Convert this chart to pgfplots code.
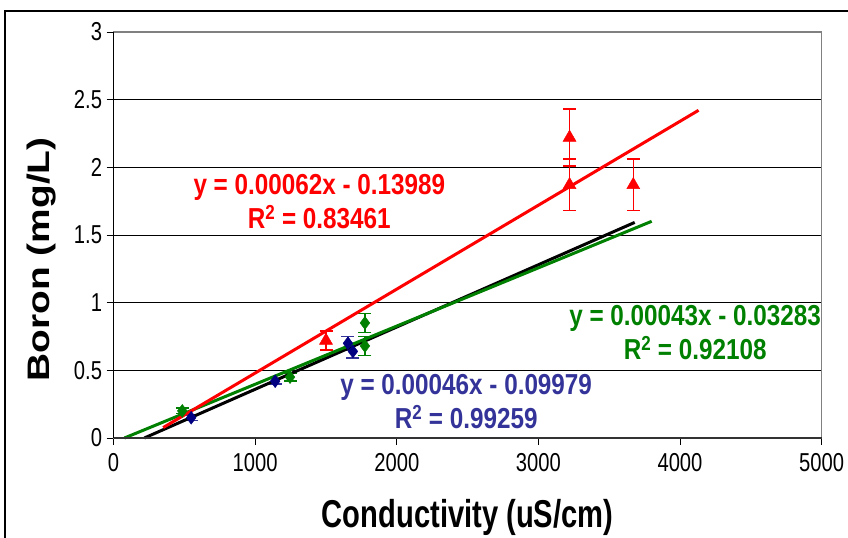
\documentclass[border=0pt]{standalone}
\usepackage{pgfplots}
\pgfplotsset{compat=1.18}
\usepackage{fontspec}
\setmainfont{Liberation Sans}
\definecolor{rred}{RGB}{255,0,0}
\definecolor{ggreen}{RGB}{0,128,0}
\definecolor{bblue}{RGB}{0,0,128}
\definecolor{btext}{RGB}{51,51,153}
\definecolor{pgray}{RGB}{128,128,128}
\newcommand{\cx}[1]{\scalebox{0.78}[1]{#1}}
\newcommand{\ca}[1]{\scalebox{0.84}[1]{#1}}
\begin{document}
\begin{tikzpicture}[x=1bp,y=1bp]
\path[use as bounding box] (0bp,0bp) rectangle (848bp,538bp);
\draw[black, line width=1.2bp] (5bp,0bp) -- (5bp,527bp) -- (848bp,527bp);
\begin{axis}[
  at={(113.6bp,100bp)}, anchor=south west,
  scale only axis, width=708bp, height=406bp,
  xmin=0, xmax=5000, ymin=0, ymax=3,
  xtick={0,1000,...,5000}, ytick={0,0.5,...,3},
  xtick pos=bottom, ytick pos=left,
  tick align=outside, major tick length=7bp,
  tick style={black, line width=0.8bp},
  ymajorgrids, major grid style={black, line width=0.7bp},
  axis line style={pgray, line width=1.5bp},
  /pgf/number format/1000 sep={},
  /pgf/number format/assume math mode=true,
  xticklabel={\cx{\pgfmathprintnumber{\tick}}},
  yticklabel={\cx{\pgfmathprintnumber{\tick}}},
  tick label style={font=\fontsize{26}{30}\selectfont},
  xticklabel style={yshift=-5bp},
  yticklabel style={xshift=-1bp},
  xlabel={\scalebox{0.75}[1]{\fontsize{39}{44}\selectfont\bfseries Conductivity (uS/cm)}},
  xlabel style={at={(axis description cs:0.5,-0.195)}, anchor=center},
  ylabel={\scalebox{1}[0.8]{\fontsize{39}{44}\selectfont\bfseries Boron (mg/L)}},
  ylabel style={at={(axis description cs:-0.102,0.44)}, anchor=center},
  clip=false,
]
% data series
\addplot[only marks, mark=triangle*, mark size=7.5bp, color=rred,
  error bars/.cd, y dir=both, y explicit,
  error bar style={line width=1.5bp, rred},
  error mark options={rotate=90, mark size=6.5bp, line width=1.5bp, rred}]
  coordinates {
  (1500,0.72) +- (0,0.07)
  (3220,2.22) +- (0,0.21)
  (3220,1.87) +- (0,0.19)
  (3670,1.87) +- (0,0.19)
  };
\addplot[only marks, mark=diamond*, mark size=6.5bp, color=bblue,
  error bars/.cd, y dir=both, y explicit,
  error bar style={line width=1.5bp, btext},
  error mark options={rotate=90, mark size=6.5bp, line width=1.5bp, btext}]
  coordinates {
  (548,0.15) +- (0,0.02)
  (1141,0.42) +- (0,0.02)
  (1655,0.70) +- (0,0.05)
  (1690,0.64) +- (0,0.05)
  };
\addplot[only marks, mark=diamond*, mark size=6.5bp, color=ggreen,
  error bars/.cd, y dir=both, y explicit,
  error bar style={line width=1.5bp, ggreen},
  error mark options={rotate=90, mark size=6.5bp, line width=1.5bp, ggreen}]
  coordinates {
  (485,0.20) +- (0,0.02)
  (1246,0.45) +- (0,0.03)
  (1775,0.85) +- (0,0.07)
  (1775,0.68) +- (0,0.07)
  };
% trend lines
\addplot[black, line width=3bp, no marks] coordinates {(217,0) (3680,1.593)};
\addplot[ggreen, line width=3bp, no marks] coordinates {(76.3,0) (3800,1.6012)};
\addplot[rred, line width=3bp, no marks] coordinates {(350,0.0771) (4131,2.4213)};
% axis lines
\draw[black, line width=1bp] (axis cs:0,0) -- (axis cs:0,3);
\draw[black!80, line width=1.5bp] (axis cs:0,0) -- (axis cs:5000,0);
% equations
\node[rred, align=center, font=\fontsize{29}{34}\selectfont\bfseries] at (axis cs:1453,1.75)
  {\ca{y = 0.00062x - 0.13989}\\ \ca{R$^{\mathbf{2}}$ = 0.83461}};
\node[btext, align=center, font=\fontsize{29}{34}\selectfont\bfseries] at (axis cs:2490,0.27)
  {\ca{y = 0.00046x - 0.09979}\\ \ca{R$^{\mathbf{2}}$ = 0.99259}};
\node[ggreen, align=center, font=\fontsize{29}{34}\selectfont\bfseries] at (axis cs:4107,0.78)
  {\ca{y = 0.00043x - 0.03283}\\ \ca{R$^{\mathbf{2}}$ = 0.92108}};
\end{axis}
\end{tikzpicture}
\end{document}
